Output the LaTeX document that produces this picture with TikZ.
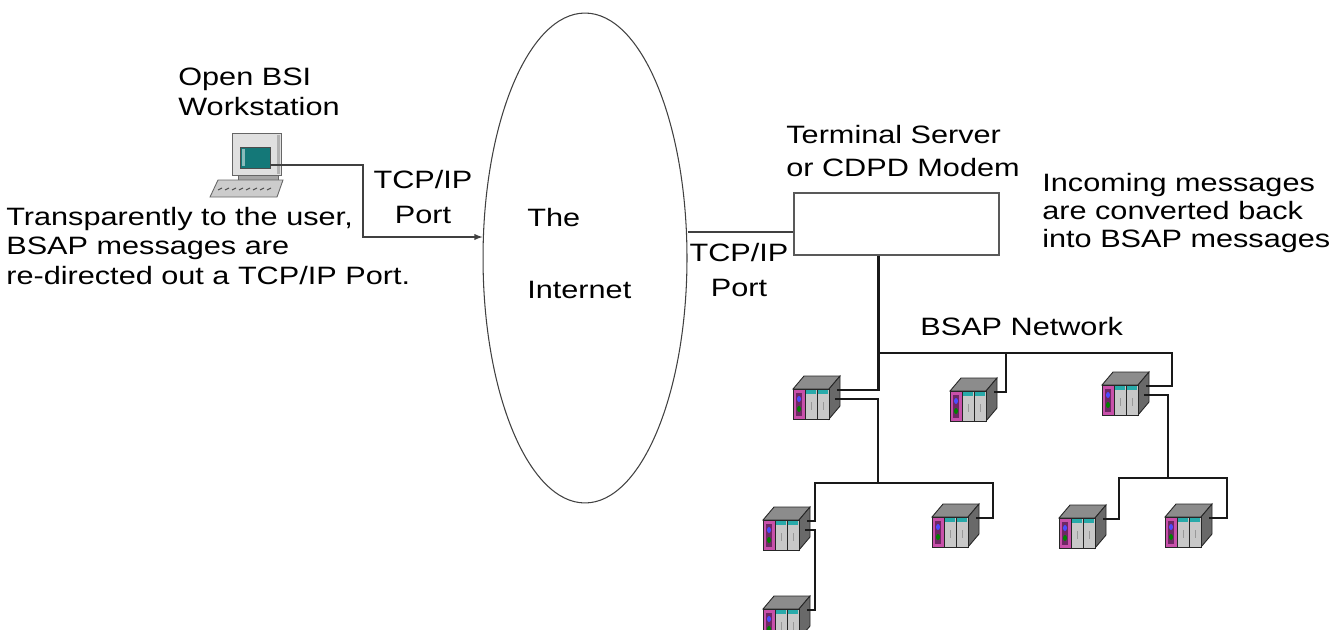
\documentclass[tikz,border=0pt]{standalone}
\usepackage{fontspec}
\setmainfont[FakeStretch=1.22]{Liberation Sans}
\usetikzlibrary{shapes.geometric,calc}

\definecolor{rtutop}{RGB}{140,140,140}
\definecolor{rtuside}{RGB}{105,105,105}
\definecolor{rtupink}{RGB}{200,80,170}
\definecolor{rtupurple}{RGB}{110,40,100}
\definecolor{rtuteal}{RGB}{40,170,170}
\definecolor{rtucard}{RGB}{200,200,200}
\definecolor{wsscreen}{RGB}{20,120,120}

\tikzset{
  lbl/.style={inner sep=0pt, font=\fontsize{14.3}{17}\selectfont, align=left},
  bus/.style={line width=1.2pt, draw=black!90},
  link/.style={line width=0.6pt, draw=black!75},
  % rack unit, origin at its top left corner
  pics/rtu/.style={code={
    \filldraw[fill=rtutop, draw=black!85, line width=0.5pt] (0,17) -- (11,4) -- (47,4) -- (36,17) -- cycle;
    \filldraw[fill=rtuside, draw=black!85, line width=0.5pt] (36,17) -- (47,4) -- (47,34) -- (36,47) -- cycle;
    \filldraw[fill=rtupink, draw=black!85, line width=0.5pt] (0,17) rectangle (12,47);
    \fill[rtupurple] (3,21) rectangle (9,44);
    \fill[blue!70] (6,27) ellipse (2 and 3);
    \fill[green!50!black] (6,37) ellipse (2 and 3);
    \foreach \c in {12,24}{
      \filldraw[fill=rtucard, draw=black!85, line width=0.5pt] (\c,17) rectangle ++(12,30);
      \fill[rtuteal] (\c+1,18) rectangle ++(10,4);
      \draw[black!40, line width=0.4pt] (\c+6,30) -- ++(0,8);
    }
    \coordinate (-a) at (44,18);
    \coordinate (-b) at (42,27);
  }},
  % pc with keyboard, origin at top left of the monitor
  pics/workstation/.style={code={
    \filldraw[fill=black!12, draw=black!60, line width=0.5pt] (0,0) rectangle (49,42);
    \fill[black!30] (45,2) rectangle (48,41);
    \filldraw[fill=wsscreen, draw=black!70, line width=0.5pt] (8,14) rectangle (38,35);
    \fill[wsscreen!50!white] (10,16) rectangle (13,33);
    \filldraw[fill=black!35, draw=black!60, line width=0.5pt] (6,42) rectangle (46,47);
    \filldraw[fill=black!20, draw=black!60, line width=0.5pt] (-14,47) -- (51,47) -- (45,64) -- (-22,64) -- cycle;
    \foreach \k in {0,...,7}
      \draw[black!70, line width=0.6pt] (-14+\k*7,57) -- ++(4,-2);
    \coordinate (-port) at (38,32);
  }},
}

\begin{document}
\begin{tikzpicture}[x=0.02cm, y=-0.02cm, >=latex]
  \useasboundingbox (0,0) rectangle (1341,629);

  % the internet
  \node[draw=black!75, line width=0.6pt, ellipse, minimum width=4.08cm,
        minimum height=9.8cm, inner sep=0pt] (net) at (585,258) {};
  \node[lbl, anchor=west] (the) at (527,218) {The};
  \node[lbl, anchor=west] (inet) at (527,290) {Internet};

  % workstation
  \pic (ws) at (232,133) {workstation};
  \node[lbl, anchor=west] (wsname) at (178,92) {Open BSI\\Workstation};
  \node[lbl, anchor=west] (wsnote) at (6,246)
    {Transparently to the user,\\BSAP messages are\\re-directed out a TCP/IP Port.};
  \node[lbl, align=center, font=\fontsize{14.3}{19.8}\selectfont] (portA) at (423,197) {TCP/IP\\Port};

  % terminal server
  \node[draw=black!65, line width=0.7pt, minimum width=4.1cm, minimum height=1.24cm,
        inner sep=0pt] (ts) at (896.5,224) {};
  \node[lbl, anchor=west, font=\fontsize{14.3}{18.7}\selectfont] (tsname) at (786,151)
    {Terminal Server\\or CDPD Modem};
  \node[lbl, align=center, font=\fontsize{14.3}{20.4}\selectfont] (portB) at (739,270) {TCP/IP\\Port};
  \node[lbl, anchor=west, font=\fontsize{14.3}{15.9}\selectfont] (tsnote) at (1042,213)
    {Incoming messages\\are converted back\\into BSAP messages};
  \node[lbl, anchor=west] (bsap) at (920,327) {BSAP Network};

  % field units
  \pic (r1) at (793,372) {rtu};
  \pic (r2) at (950,374) {rtu};
  \pic (r3) at (1102,368) {rtu};
  \pic (r4) at (763,503) {rtu};
  \pic (r5) at (932,500) {rtu};
  \pic (r6) at (763,592) {rtu};
  \pic (r7) at (1059,501) {rtu};
  \pic (r8) at (1165,500) {rtu};

  % internet links
  \coordinate (tcpin) at (363,237);
  \draw[link, ->] (ws-port) -| (tcpin) -- (tcpin -| net.west);
  \coordinate (tsin) at ($(ts.west)+(0,8)$);
  \draw[link] (net.east |- tsin) -- (tsin);

  % bsap network
  \coordinate (tap) at ($(ts.south)+(-18,0)$);
  \coordinate (busR) at (1172,353);
  \coordinate (j2) at (1006,353);
  \coordinate (j3) at (878,483);
  \coordinate (j4) at (1168,478);
  \coordinate (b2L) at (815,483);
  \coordinate (b2R) at (993,483);
  \coordinate (b3L) at (1119,478);
  \coordinate (b3R) at (1227,478);
  \draw[bus] (tap) |- (r1-a);
  \draw[bus] (tap |- busR) -- (busR) |- (r3-a);
  \draw[bus] (j2) |- (r2-a);
  \draw[bus] (r1-b) -| (j3);
  \draw[bus] (r4-a) -| (b2L) -- (b2R) |- (r5-a);
  \draw[bus] (r4-b) -- (r4-b -| b2L) |- (r6-a);
  \draw[bus] (r3-b) -| (j4);
  \draw[bus] (r7-a) -| (b3L) -- (b3R) |- (r8-a);
\end{tikzpicture}
\end{document}
